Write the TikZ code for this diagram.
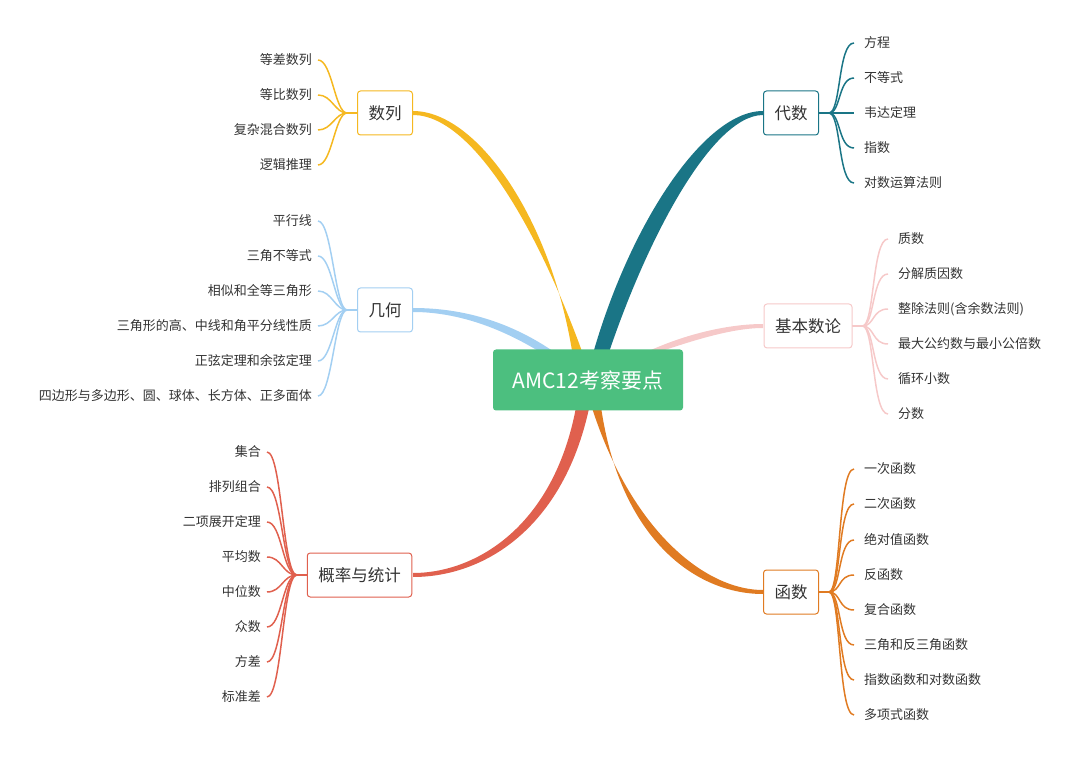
\documentclass[tikz,border=0pt]{standalone}
\usepackage{fontspec}
\newfontfamily\cjk{Noto Sans CJK SC}
\definecolor{cgreen}{HTML}{4CBF7F}
\definecolor{cyel}{HTML}{F5B820}
\definecolor{cblue}{HTML}{A3CFF2}
\definecolor{cred}{HTML}{E0604E}
\definecolor{cteal}{HTML}{1A7586}
\definecolor{cpink}{HTML}{F6C9C9}
\definecolor{corg}{HTML}{E07B22}
\definecolor{ctext}{HTML}{333333}
\tikzset{
  topic/.style={draw=#1,line width=1pt,rounded corners=3pt,fill=white,font=\cjk\fontsize{16.5}{18}\selectfont,text=ctext,minimum height=44pt,inner xsep=11pt},
  leafL/.style={anchor=east,font=\cjk\fontsize{13}{15}\selectfont,text=ctext,inner sep=0pt},
  leafR/.style={anchor=west,font=\cjk\fontsize{13}{15}\selectfont,text=ctext,inner sep=0pt},
  twig/.style={draw=#1,line width=1.5pt}
}
\begin{document}
\begin{tikzpicture}[x=1pt,y=-1pt]
\useasboundingbox (0,0) rectangle (1080,759);
% tapered branches
\fill[cyel] (576,380) .. controls (560,230) and (480,111) .. (413,111) -- (413,115) .. controls (475,115) and (545,240) .. (592,380) -- cycle;
\fill[cteal] (586,380) .. controls (620,240) and (700,111) .. (763,111) -- (763,115) .. controls (710,115) and (640,250) .. (600,380) -- cycle;
\fill[cblue] (580,372) .. controls (520,320) and (460,308) .. (413,308) -- (413,312) .. controls (460,312) and (520,330) .. (590,388) -- cycle;
\fill[cpink] (586,388) .. controls (650,340) and (720,324) .. (763,324) -- (763,328) .. controls (720,328) and (660,352) .. (596,374) -- cycle;
\fill[cred] (580,380) .. controls (565,520) and (480,573) .. (413,573) -- (413,577) .. controls (490,577) and (575,520) .. (594,380) -- cycle;
\fill[corg] (584,380) .. controls (620,520) and (700,590) .. (763,590) -- (763,594) .. controls (690,594) and (610,530) .. (598,380) -- cycle;
\node[fill=cgreen,rounded corners=3pt,minimum width=190pt,minimum height=61pt,text=white,font=\cjk\fontsize{21}{24}\selectfont] (center) at (588,380) {AMC12考察要点};
% topics
\node[topic=cyel] (sl) at (385,113) {数列};
\node[topic=cblue] (jh) at (385,310) {几何};
\node[topic=cred] (gl) at (359.5,575) {概率与统计};
\node[topic=cteal] (ds) at (791,113) {代数};
\node[topic=cpink] (sl2) at (808,326) {基本数论};
\node[topic=corg] (hs) at (791,592) {函数};
% left leaves
\foreach \t/\y [count=\i] in {等差数列/60,等比数列/95,复杂混合数列/130,逻辑推理/165}{
  \node[leafL] (a\i) at (312,\y) {\t};
  \draw[twig=cyel] (sl.west) -- ++(-10,0) .. controls +(-12,0) and (332,\y) .. (318,\y);}
\foreach \t/\y [count=\i] in {平行线/221,三角不等式/256,相似和全等三角形/291,三角形的高、中线和角平分线性质/326,正弦定理和余弦定理/361,四边形与多边形、圆、球体、长方体、正多面体/396}{
  \node[leafL] (b\i) at (312,\y) {\t};
  \draw[twig=cblue] (jh.west) -- ++(-10,0) .. controls +(-12,0) and (332,\y) .. (318,\y);}
\foreach \t/\y [count=\i] in {集合/452,排列组合/487,二项展开定理/522,平均数/557,中位数/592,众数/627,方差/662,标准差/697}{
  \node[leafL] (e\i) at (261,\y) {\t};
  \draw[twig=cred] (gl.west) -- ++(-10,0) .. controls +(-14,0) and (282,\y) .. (267,\y);}
% right leaves
\foreach \t/\y [count=\i] in {方程/43,不等式/78,韦达定理/113,指数/148,对数运算法则/183}{
  \node[leafR] (f\i) at (864,\y) {\t};
  \draw[twig=cteal] (ds.east) -- ++(10,0) .. controls +(12,0) and (838,\y) .. (854,\y);}
\foreach \t/\y [count=\i] in {质数/239,分解质因数/274,整除法则(含余数法则)/309,最大公约数与最小公倍数/344,循环小数/379,分数/414}{
  \node[leafR] (g\i) at (898,\y) {\t};
  \draw[twig=cpink] (sl2.east) -- ++(10,0) .. controls +(12,0) and (872,\y) .. (888,\y);}
\foreach \t/\y [count=\i] in {一次函数/469,二次函数/504,绝对值函数/540,反函数/575,复合函数/610,三角和反三角函数/645,指数函数和对数函数/680,多项式函数/715}{
  \node[leafR] (h\i) at (864,\y) {\t};
  \draw[twig=corg] (hs.east) -- ++(10,0) .. controls +(12,0) and (838,\y) .. (854,\y);}
\end{tikzpicture}
\end{document}
